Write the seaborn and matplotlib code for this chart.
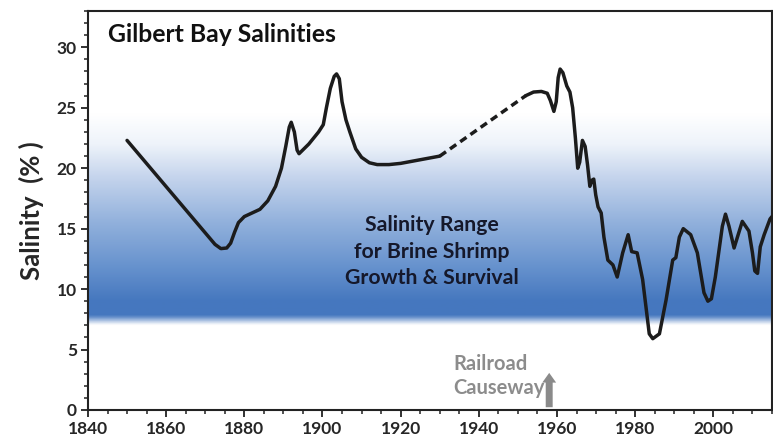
import numpy as np
import pandas as pd
import seaborn as sns
import matplotlib.pyplot as plt
from matplotlib.colors import LinearSegmentedColormap
from matplotlib.ticker import MultipleLocator

# salinity record
years_early = [1850, 1872.5, 1874, 1875.5, 1876.5, 1877.5, 1878.5, 1880, 1882, 1884,
               1886, 1888, 1889.5, 1890.6, 1891.5, 1892, 1892.8, 1893.5, 1894, 1896.5,
               1899, 1900.2, 1901, 1902, 1903, 1903.6, 1904.3, 1905, 1906, 1907,
               1908.5, 1910, 1912, 1914, 1917, 1920, 1925, 1930]
sal_early = [22.3, 13.7, 13.35, 13.4, 13.8, 14.7, 15.5, 16.0, 16.3, 16.6,
             17.3, 18.5, 20.0, 21.8, 23.4, 23.8, 23.0, 21.5, 21.2, 22.0,
             23.0, 23.6, 25.0, 26.6, 27.6, 27.8, 27.4, 25.5, 24.0, 23.0,
             21.6, 20.9, 20.45, 20.3, 20.3, 20.4, 20.7, 21.0]

# no data - dashed estimate
years_gap = [1930, 1952]
sal_gap = [21.0, 26.0]

years_late = [1952, 1954, 1956, 1957.5, 1958.3, 1959.2, 1959.8, 1960.3, 1960.8, 1961.5,
              1962.5, 1963.3, 1964, 1964.7, 1965.3, 1965.8, 1966.5, 1967.2, 1967.8, 1968.4,
              1968.9, 1969.4, 1969.9, 1970.5, 1971.3, 1972, 1973, 1974.3, 1975.4, 1976.8,
              1978.2, 1979.1, 1980.5, 1981.9, 1983.6, 1984.5, 1986.2, 1987.9, 1989.6, 1990.4,
              1991.3, 1992.3, 1994.2, 1995.9, 1997.6, 1998.6, 1999.5, 2000.5, 2002.3, 2003.1,
              2004, 2005.3, 2007.4, 2009.1, 2010, 2010.6, 2011.3, 2012, 2013, 2014.5, 2015]
sal_late = [26.0, 26.3, 26.35, 26.2, 25.6, 24.7, 25.5, 27.5, 28.2, 27.9,
            26.8, 26.3, 25.0, 22.5, 20.0, 20.5, 22.3, 21.8, 20.3, 18.5,
            19.0, 19.1, 17.8, 16.8, 16.3, 14.3, 12.4, 12.0, 11.0, 13.0,
            14.5, 13.1, 13.0, 10.8, 6.3, 5.9, 6.3, 9.1, 12.4, 12.6,
            14.3, 15.0, 14.5, 13.0, 9.7, 9.0, 9.2, 11.0, 15.2, 16.2,
            15.2, 13.4, 15.6, 14.8, 13.0, 11.5, 11.3, 13.5, 14.5, 15.8, 16.0]

causeway_year = 1958
brine_range = (6.5, 24.5)

sns.set_style("ticks")
plt.rcParams['font.family'] = ['Lato', 'DejaVu Sans']
plt.rcParams['font.weight'] = 'bold'

fig = plt.figure(figsize=(7.73, 4.42), dpi=100)
ax = fig.add_axes([0.1138, 0.0724, 0.8849, 0.9026])

# blue band for brine shrimp range
band = LinearSegmentedColormap.from_list('band', [
    (0.0, '#ffffff'), (0.025, '#ffffff'), (0.07, '#4577bf'), (0.14, '#4678bf'),
    (0.3, '#6893ce'), (0.5, '#92b1dc'), (0.7, '#c3d3ec'), (0.86, '#eef3fa'),
    (1.0, '#ffffff')])
grad = np.linspace(0, 1, 400).reshape(-1, 1)
ax.imshow(grad, cmap=band, aspect='auto', origin='lower',
          extent=[1840, 2015, brine_range[0], brine_range[1]], zorder=0)

early = pd.DataFrame({'year': years_early, 'salinity': sal_early})
gap = pd.DataFrame({'year': years_gap, 'salinity': sal_gap})
late = pd.DataFrame({'year': years_late, 'salinity': sal_late})

sns.lineplot(data=early, x='year', y='salinity', ax=ax, color='#1c1c1c',
             lw=2.5, estimator=None, sort=False, zorder=3)
sns.lineplot(data=gap, x='year', y='salinity', ax=ax, color='#1c1c1c',
             lw=2.5, estimator=None, sort=False, zorder=3, linestyle=(0, (2.2, 1.4)))
sns.lineplot(data=late, x='year', y='salinity', ax=ax, color='#1c1c1c',
             lw=2.5, estimator=None, sort=False, zorder=3)

ax.set_xlim(1840, 2015)
ax.set_ylim(0, 33)
ax.xaxis.set_minor_locator(MultipleLocator(5))
ax.yaxis.set_major_locator(MultipleLocator(5))
ax.yaxis.set_minor_locator(MultipleLocator(1))
ax.set_xticks(range(1840, 2001, 20))
ax.tick_params(which='major', length=5, width=1.3, color='#222222',
               labelsize=12.5, pad=3)
ax.tick_params(which='minor', length=3, width=1.1, color='#222222')
for lab in ax.get_xticklabels() + ax.get_yticklabels():
    lab.set_fontweight('bold')
for s in ax.spines.values():
    s.set_linewidth(1.5)
    s.set_color('#222222')

ax.set_xlabel('')
ax.set_ylabel('Salinity  (% )', fontsize=18.5, fontweight='bold', labelpad=9)

ax.text(1845, 31.1, 'Gilbert Bay Salinities', fontsize=17.8, fontweight='bold',
        va='center', ha='left', color='#111111')
ax.text(1928, 13.1, 'Salinity Range\nfor Brine Shrimp\nGrowth & Survival',
        fontsize=15.3, fontweight='bold', ha='center', va='center',
        color='#15182a', linespacing=1.4)

ax.annotate('', xy=(causeway_year, 3.3), xytext=(causeway_year, 0),
            arrowprops=dict(arrowstyle='simple,head_length=0.7,head_width=1.0,tail_width=0.5',
                            color='#8a8a8a', lw=0), zorder=2)
ax.text(1933.5, 2.8, 'Railroad\nCauseway', fontsize=14.5,
        fontweight='bold', ha='left', va='center', color='#8c8c8c',
        linespacing=1.25)

fig.savefig('out.png', dpi=100)
